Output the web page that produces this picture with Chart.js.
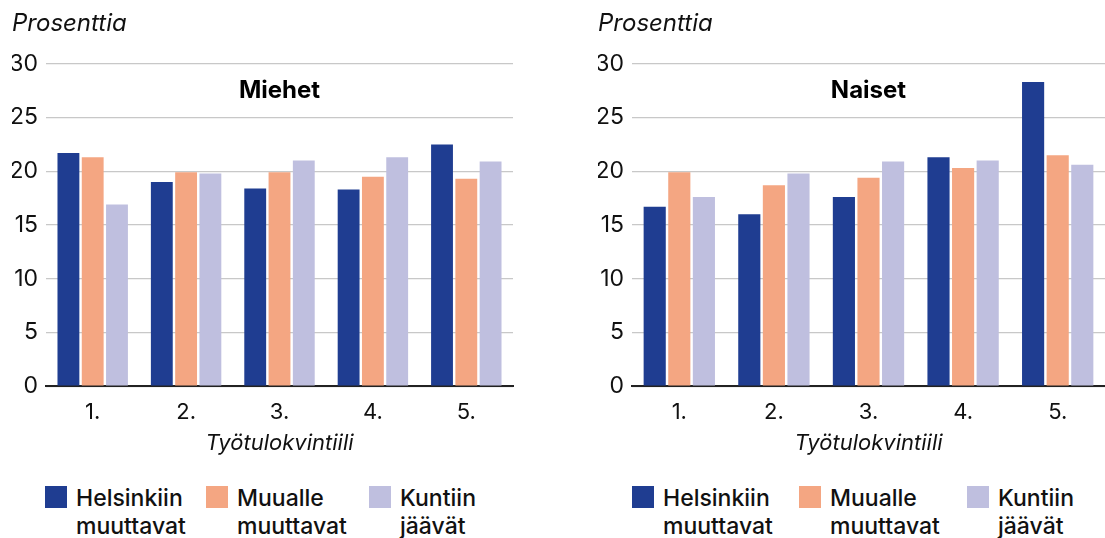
<!DOCTYPE html>
<html>
<head>
<meta charset="utf-8">
<script src="https://cdn.jsdelivr.net/npm/chart.js@4/dist/chart.umd.min.js"></script>
<style>
  html, body { margin:0; padding:0; background:#fff; }
  body { width:1105px; height:538px; position:relative; overflow:hidden; font-family:Inter, "Noto Sans", sans-serif; }
  .box { position:absolute; top:0; height:461px; }
  .item { position:absolute; top:484px; font-size:23px; line-height:28px; color:#111; font-weight:500; }
  .sw { position:absolute; top:2px; width:22px; height:22px; }
</style>
</head>
<body>
<div class="box" style="left:0;width:528px"><canvas id="miehet"></canvas></div>
<div class="box" style="left:585px;width:520px"><canvas id="naiset"></canvas></div>
<div id="legend"></div>
<script>
const categories = ["1.", "2.", "3.", "4.", "5."];
const seriesNames = [["Helsinkiin", "muuttavat"], ["Muualle", "muuttavat"], ["Kuntiin", "jäävät"]];
const seriesColors = ["#1f3d91", "#f4a682", "#bfbfdf"];

const miehetHelsinkiin = [21.7, 19.0, 18.4, 18.3, 22.5];
const miehetMuualle = [21.3, 19.9, 19.9, 19.5, 19.3];
const miehetKuntiin = [16.9, 19.8, 21.0, 21.3, 20.9];

const naisetHelsinkiin = [16.7, 16.0, 17.6, 21.3, 28.3];
const naisetMuualle = [19.9, 18.7, 19.4, 20.3, 21.5];
const naisetKuntiin = [17.6, 19.8, 20.9, 21.0, 20.6];

const FONT = "Inter";

// panel title inside the plot area
const panelTitle = {
    id: "panelTitle",
    afterDraw(chart, args, opts){
        const a = chart.chartArea;
        const ctx = chart.ctx;
        ctx.save();
        ctx.font = "bold 24px " + FONT;
        ctx.fillStyle = "#000";
        ctx.textAlign = "center";
        ctx.textBaseline = "middle";
        ctx.fillText(opts.text, (a.left + a.right) / 2, a.top + 27);
        ctx.restore();
    }
};

function makeChart(id, values, name, pad){

    new Chart(document.getElementById(id), {
        type: "bar",
        data: {
            labels: categories,
            datasets: values.map((v, i) => ({
                label: seriesNames[i].join(" "),
                data: v,
                backgroundColor: seriesColors[i],
                categoryPercentage: 0.78,
                barPercentage: 0.9
            }))
        },
        options: {
            responsive: true,
            maintainAspectRatio: false,
            animation: false,
            layout: { padding: pad },
            plugins: {
                legend: { display: false },
                tooltip: { enabled: false },
                title: {
                    display: true,
                    text: "Prosenttia",
                    align: "start",
                    color: "#111",
                    font: { family: FONT, size: 24, style: "italic", weight: "normal" },
                    padding: { top: 9, bottom: 26 }
                },
                panelTitle: { text: name }
            },
            scales: {
                x: {
                    grid: { display: false },
                    border: { display: true, color: "#222", width: 2 },
                    ticks: { color: "#111", font: { family: FONT, size: 22 }, padding: 5 },
                    title: {
                        display: true,
                        text: "Työtulokvintiili",
                        color: "#111",
                        font: { family: FONT, size: 22, style: "italic" },
                        padding: { top: 0 }
                    }
                },
                y: {
                    min: 0,
                    max: 30,
                    ticks: { stepSize: 5, color: "#111", font: { family: FONT, size: 23 }, padding: 8 },
                    grid: { color: "#c8c8c8", lineWidth: 1.3, drawTicks: false },
                    border: { display: false },
                    afterFit(scale){ scale.width = 34; }
                }
            }
        },
        plugins: [panelTitle]
    });

}

makeChart("miehet", [miehetHelsinkiin, miehetMuualle, miehetKuntiin], "Miehet", { left: 12, right: 15 });
makeChart("naiset", [naisetHelsinkiin, naisetMuualle, naisetKuntiin], "Naiset", { left: 13, right: 0 });

// legend: one row under each panel
function makeLegend(xs){
    const el = document.getElementById("legend");
    seriesNames.forEach((n, i) => {
        const it = document.createElement("div");
        it.className = "item";
        it.style.left = xs[i] + "px";
        it.style.paddingLeft = "31px";
        it.innerHTML = '<div class="sw" style="left:0;background:' + seriesColors[i] + '"></div>' + n[0] + '<br>' + n[1];
        el.appendChild(it);
    });
}
makeLegend([45, 206, 369]);
makeLegend([632, 799, 967]);
</script>
</body>
</html>
